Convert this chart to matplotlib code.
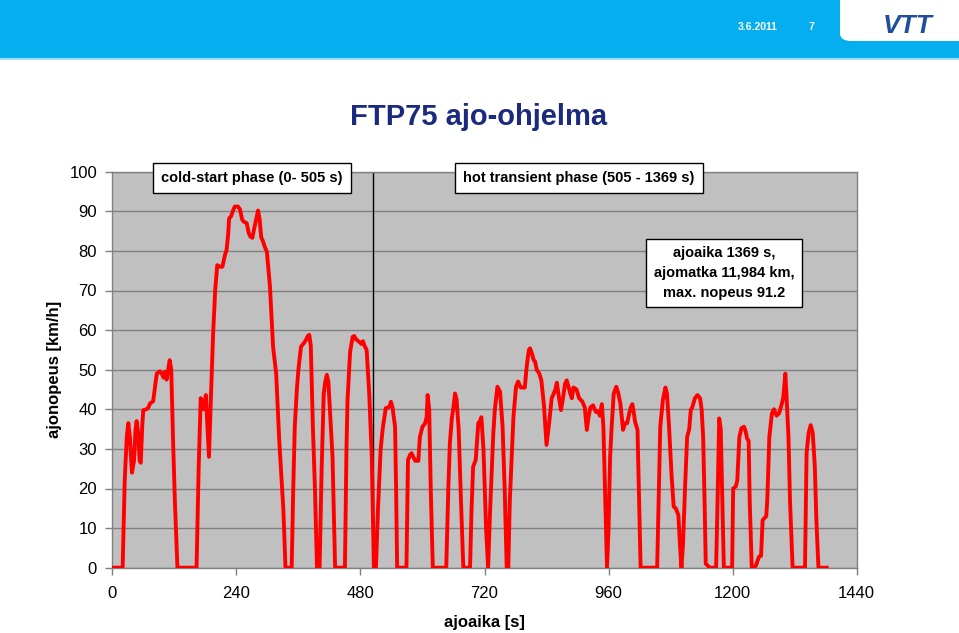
import matplotlib
matplotlib.use("Agg")
import matplotlib.pyplot as plt
from matplotlib.patches import Rectangle, FancyBboxPatch

plt.rcParams['font.family'] = ['Liberation Sans', 'DejaVu Sans']

# FTP75 speed trace (time s, speed km/h)
time_s = [0, 20, 24, 28, 31, 34, 38, 42, 45, 47, 50, 53, 55, 58, 60, 66, 70, 73, 79, 83,
          86, 92, 96, 99, 102, 105, 108, 111, 114, 118, 121, 126, 163, 167, 171, 176, 181, 184, 187, 190,
          195, 199, 203, 208, 213, 218, 221, 224, 226, 230, 233, 237, 243, 247, 251, 254, 257, 260, 264, 267,
          271, 275, 278, 282, 285, 288, 291, 295, 299, 305, 311, 317, 323, 331, 335, 347, 350, 353, 357, 360,
          365, 371, 375, 378, 381, 384, 388, 392, 396, 401, 405, 409, 412, 415, 418, 421, 426, 431, 450, 453,
          455, 460, 465, 468, 472, 478, 482, 485, 488, 492, 497, 502, 506, 510, 514, 519, 523, 529, 534, 537,
          539, 542, 547, 549, 551, 569, 572, 576, 579, 582, 586, 592, 595, 600, 605, 608, 610, 613, 616, 620,
          646, 650, 653, 657, 660, 663, 666, 670, 675, 679, 692, 695, 698, 703, 706, 708, 711, 714, 718, 723,
          727, 731, 737, 740, 745, 750, 755, 759, 763, 766, 769, 776, 781, 785, 790, 798, 801, 804, 806, 808,
          812, 815, 818, 821, 826, 830, 835, 840, 845, 850, 854, 857, 860, 864, 868, 872, 876, 879, 883, 886,
          889, 892, 898, 903, 909, 914, 918, 921, 925, 930, 933, 936, 940, 943, 947, 950, 953, 957, 960, 963,
          966, 970, 975, 979, 983, 988, 992, 996, 1000, 1003, 1006, 1009, 1011, 1016, 1019, 1022, 1054, 1057, 1060, 1065,
          1070, 1073, 1077, 1082, 1086, 1090, 1095, 1098, 1101, 1104, 1108, 1112, 1116, 1119, 1122, 1127, 1132, 1137, 1140, 1143,
          1146, 1148, 1152, 1156, 1168, 1171, 1174, 1177, 1180, 1183, 1199, 1201, 1206, 1209, 1213, 1217, 1222, 1225, 1228, 1231,
          1233, 1237, 1240, 1245, 1251, 1255, 1258, 1262, 1265, 1267, 1271, 1276, 1280, 1285, 1290, 1295, 1298, 1302, 1304, 1308,
          1311, 1316, 1340, 1343, 1347, 1351, 1355, 1359, 1362, 1366, 1382]
speed_kmh = [0, 0, 22, 33, 36.5, 33, 24, 27, 35, 37, 34, 27, 26.5, 36, 39.8, 40, 40.5, 41.5, 42, 46,
             49, 49.6, 49, 48, 49.5, 47.5, 50, 52.4, 50, 30, 17, 0, 0, 25, 42.8, 40, 43.6, 36, 28, 40,
             59, 70, 76.4, 76, 76, 79, 80.2, 84, 88.2, 88.8, 90, 91.2, 91.2, 90.5, 88, 87.4, 87.2, 87, 84.5, 83.6,
             83.3, 86, 87.8, 90.2, 88, 83.5, 82.6, 81, 79.8, 71, 55.8, 49, 32, 14.5, 0, 0, 20, 35.6, 45, 50,
             55.8, 56.8, 57.6, 58.5, 58.8, 56, 35.6, 20, 0, 0, 25, 44, 47, 48.7, 47, 40, 28, 0, 0, 30,
             42.3, 54.5, 58.3, 58.5, 57.6, 57, 56.5, 57.2, 56, 55, 44, 28, 0, 0, 15, 29.7, 35, 40.3, 40.5, 41,
             41.9, 40.5, 35.6, 20, 0, 0, 27.2, 28.5, 28.9, 28, 27, 27, 33, 35.6, 36.4, 38, 43.6, 40, 20, 0,
             0, 20, 31.4, 38, 40.5, 44, 42.5, 35, 15, 0, 0, 15, 25.5, 27.2, 33, 36.5, 37, 38, 30, 10,
             0, 15, 33.9, 40, 45.7, 44.5, 35.6, 20, 0, 0, 17, 38.1, 45.7, 47, 45.5, 45.5, 50, 53.3, 55, 55.4,
             54, 52.5, 52, 50, 49, 47.3, 41, 31, 36.5, 42.8, 44, 45, 46.7, 43, 39.8, 43, 46.5, 47.3, 45.5, 44,
             42.8, 45.5, 45, 42.8, 42, 40.5, 34.8, 38, 40.5, 41, 40, 39.3, 39.5, 38.4, 41.3, 35.6, 20, 0, 10, 28,
             35.6, 44, 45.7, 44, 41.3, 34.8, 36.5, 36.5, 39, 40.5, 41.3, 39, 37, 34.8, 18, 0, 0, 18, 35.6, 42.3,
             45.5, 44, 35.6, 23, 15.4, 15, 13.3, 6, 0, 6, 20.5, 33, 35, 39.8, 40.5, 42.8, 43.6, 42.8, 40, 33,
             15, 1, 0.5, 0, 0, 18, 37.7, 35, 17, 0, 0, 20, 20.5, 22, 33, 35.2, 35.6, 34.5, 32.6, 32,
             17, 0, 0, 0.5, 2.8, 3, 12, 12.6, 13, 17, 33, 39, 40, 38.4, 39, 41.3, 43, 49, 44, 33,
             17, 0, 0, 28.9, 34, 36, 34, 25.5, 12, 0, 0]

x_ticks = [0, 240, 480, 720, 960, 1200, 1440]
y_ticks = list(range(0, 101, 10))
phase_split = 505

W, H = 959, 633
fig = plt.figure(figsize=(W / 100, H / 100), dpi=100)


def fx(px):
    return px / W


def fy(py):
    return 1 - py / H


# slide header
fig.patches.append(Rectangle((0, fy(58)), 1, 58 / H, transform=fig.transFigure,
                             facecolor='#05aeef', edgecolor='none', zorder=0))
fig.patches.append(Rectangle((0, fy(60)), 1, 2 / H, transform=fig.transFigure,
                             facecolor='#9ee0f7', edgecolor='none', zorder=0))
fig.patches.append(FancyBboxPatch((fx(840), fy(41)), fx(140), 70 / H,
                                  boxstyle='round,pad=0,rounding_size=0.012',
                                  transform=fig.transFigure, facecolor='white',
                                  edgecolor='none', zorder=1))
fig.text(fx(758), fy(27), '3.6.2011', color='white', fontsize=7.5, fontweight='bold',
         ha='center', va='center')
fig.text(fx(811), fy(27), '7', color='white', fontsize=7.5, fontweight='bold',
         ha='center', va='center')
fig.text(fx(908), fy(26), 'VTT', color='#1f4e9c', fontsize=19, fontweight='bold',
         style='italic', ha='center', va='center', zorder=3)

fig.text(fx(479), fy(117), 'FTP75 ajo-ohjelma', color='#1b2a7c', fontsize=21,
         fontweight='bold', ha='center', va='center')

ax = fig.add_axes([fx(112.3), fy(567.7), fx(856.7) - fx(112.3), fy(171.7) - fy(567.7)])
ax.set_facecolor('#c0c0c0')
ax.set_xlim(0, 1440)
ax.set_ylim(0, 100)
ax.set_xticks(x_ticks)
ax.set_yticks(y_ticks)
ax.yaxis.grid(True, color='#808080', linewidth=1)
ax.set_axisbelow(True)
for s in ax.spines.values():
    s.set_color('#808080')
    s.set_linewidth(1)
ax.tick_params(axis='both', colors='#808080', labelcolor='black', labelsize=12,
               length=5, width=1)
ax.tick_params(axis='x', pad=8)
ax.tick_params(axis='y', pad=6)

ax.axvline(phase_split, color='black', linewidth=1, zorder=2)
ax.plot(time_s, speed_kmh, color='#ff0000', linewidth=2.8, zorder=3)

ax.set_xlabel('ajoaika [s]', fontsize=12, fontweight='bold', labelpad=10)
ax.set_ylabel('ajonopeus [km/h]', fontsize=12, fontweight='bold', labelpad=5)

box = dict(boxstyle='square,pad=0.55', facecolor='white', edgecolor='black', linewidth=1)
fig.text(fx(252), fy(178), 'cold-start phase (0- 505 s)', fontsize=10.5, fontweight='bold',
         ha='center', va='center', bbox=box, zorder=5)
fig.text(fx(579), fy(178), 'hot transient phase (505 - 1369 s)', fontsize=10.5,
         fontweight='bold', ha='center', va='center', bbox=box, zorder=5)
fig.text(fx(724), fy(273), 'ajoaika 1369 s,\najomatka 11,984 km,\nmax. nopeus 91.2',
         fontsize=10.5, fontweight='bold', ha='center', va='center', linespacing=1.55,
         bbox=dict(boxstyle='square,pad=0.5', facecolor='white', edgecolor='black',
                   linewidth=1), zorder=5)

fig.savefig('out.png', dpi=100)
